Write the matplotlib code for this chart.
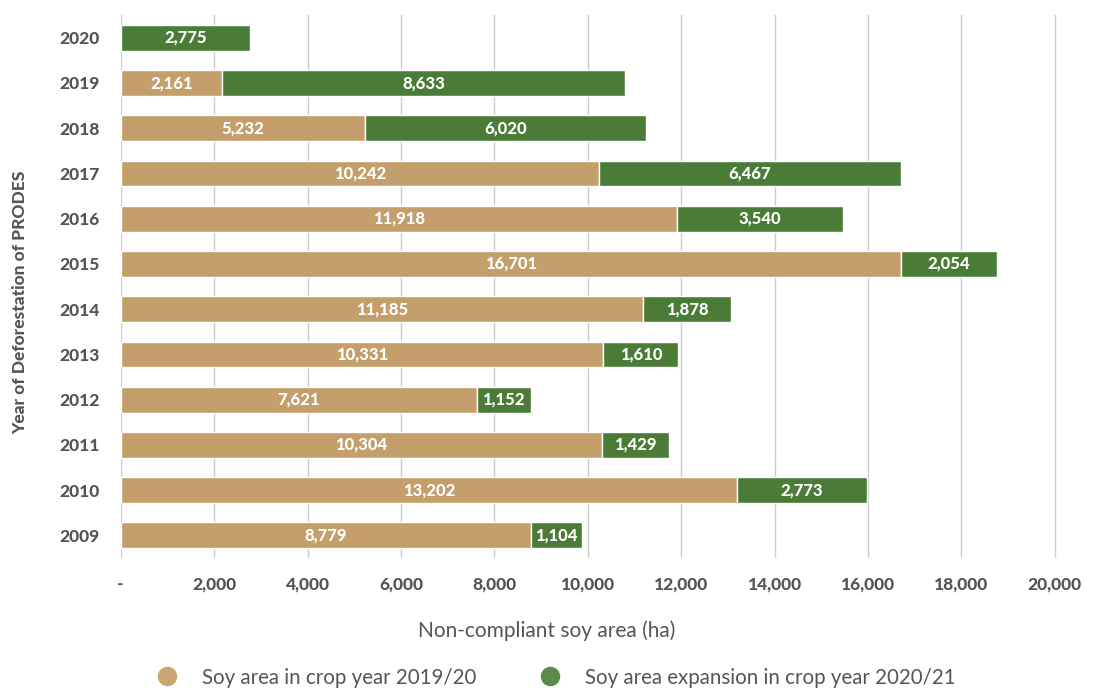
import numpy as np
import matplotlib.pyplot as plt
from matplotlib.lines import Line2D

years = ['2020', '2019', '2018', '2017', '2016', '2015',
         '2014', '2013', '2012', '2011', '2010', '2009']

# Soy area in crop year 2019/20
soy_1920 = [0, 2161, 5232, 10242, 11918, 16701,
            11185, 10331, 7621, 10304, 13202, 8779]

# Soy area expansion in crop year 2020/21
soy_2021 = [2775, 8633, 6020, 6467, 3540, 2054,
            1878, 1610, 1152, 1429, 2773, 1104]

x_ticks = [0, 2000, 4000, 6000, 8000, 10000, 12000, 14000, 16000, 18000, 20000]

tan = '#C49F6B'
green = '#4A7C38'
grey = '#555555'


def soy_chart():
    fig = plt.figure(figsize=(10.98, 6.88), dpi=100)
    ax = fig.add_axes([0.110, 0.189, 0.855, 0.789])

    y = np.arange(len(years))
    h = 0.57
    tan_vals = np.array(soy_1920)
    green_vals = np.array(soy_2021)

    ax.barh(y, tan_vals, height=h, color=tan, edgecolor='white', linewidth=1, zorder=3)
    ax.barh(y, green_vals, left=tan_vals, height=h, color=green,
            edgecolor='white', linewidth=1, zorder=3)

    # value labels in the middle of each segment
    lbl = dict(ha='center', va='center', color='white', fontsize=12,
               fontweight='black', family='Lato', zorder=4)
    for i in range(len(years)):
        if tan_vals[i] > 0:
            ax.text(tan_vals[i] / 2, y[i], f'{tan_vals[i]:,}', **lbl)
        ax.text(tan_vals[i] + green_vals[i] / 2, y[i], f'{green_vals[i]:,}', **lbl)

    ax.set_ylim(len(years) - 0.5, -0.5)
    ax.set_xlim(0, 20100)
    ax.set_yticks(y)
    ax.set_yticklabels(years, fontsize=12.5, fontweight='black', color=grey, family='Lato')
    ax.set_xticks(x_ticks)
    ax.set_xticklabels(['-'] + [f'{v:,}' for v in x_ticks[1:]], fontsize=12.5,
                       fontweight='black', color=grey, family='Lato')
    ax.tick_params(length=0)
    ax.tick_params(axis='x', pad=13)
    ax.tick_params(axis='y', pad=15)

    ax.grid(axis='x', color='#cccccc', linewidth=1, zorder=0)
    for s in ax.spines.values():
        s.set_visible(False)

    # axis titles, x title centred on the figure
    fig.text(0.498, 0.084, 'Non-compliant soy area (ha)', fontsize=15, color=grey,
             family='Lato', ha='center', va='center')
    fig.text(0.018, 0.56, 'Year of Deforestation of PRODES', fontsize=12.5,
             fontweight='black', color=grey, family='Lato', rotation=90,
             ha='center', va='center')

    handles = [
        Line2D([], [], marker='o', linestyle='', markersize=13, color='#C8A772'),
        Line2D([], [], marker='o', linestyle='', markersize=13, color='#5B8A4A'),
    ]
    fig.legend(handles, ['Soy area in crop year 2019/20',
                         'Soy area expansion in crop year 2020/21'],
               loc='center', bbox_to_anchor=(0.502, 0.015), ncol=2, frameon=False,
               prop={'family': 'Lato', 'size': 14.8}, labelcolor=grey,
               columnspacing=2.6, handletextpad=0.7)

    fig.savefig('out.png', dpi=100)


if __name__ == '__main__':
    soy_chart()
